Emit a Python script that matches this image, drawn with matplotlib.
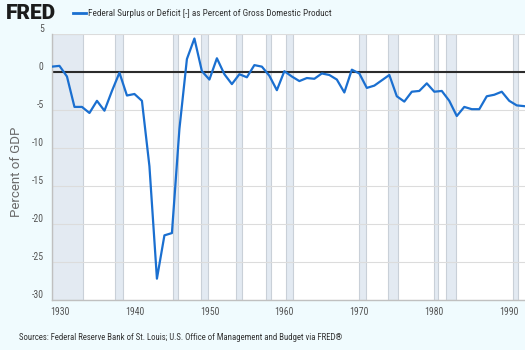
import numpy as np
import matplotlib
matplotlib.use("Agg")
import matplotlib.pyplot as plt

# Federal surplus or deficit as % of GDP, fiscal years 1929-1992
years = np.arange(1929, 1993)
values = [0.7, 0.8, -0.6, -4.6, -4.6, -5.4, -3.8, -5.1, -2.5, -0.1,
          -3.1, -2.9, -3.8, -12.4, -27.2, -21.5, -21.2, -7.5, 1.7, 4.4,
          0.1, -1.0, 1.8, -0.3, -1.6, -0.3, -0.7, 0.9, 0.7, -0.5,
          -2.4, 0.1, -0.6, -1.2, -0.8, -0.9, -0.2, -0.4, -1.0, -2.7,
          0.3, -0.2, -2.1, -1.8, -1.1, -0.4, -3.2, -3.9, -2.6, -2.5,
          -1.5, -2.6, -2.5, -3.8, -5.8, -4.6, -4.9, -4.9, -3.2, -3.0,
          -2.6, -3.8, -4.4, -4.5]

# recession bands (start, end) in decimal years
recessions = [(1929.0, 1933.1), (1937.35, 1938.45), (1945.1, 1945.75),
              (1948.85, 1949.75), (1953.5, 1954.3), (1957.6, 1958.25),
              (1960.25, 1961.1), (1969.9, 1970.85), (1973.85, 1975.15),
              (1980.0, 1980.5), (1981.5, 1982.85), (1990.5, 1991.2)]

yticks = [5, 0, -5, -10, -15, -20, -25, -30]
xticks = [1930, 1940, 1950, 1960, 1970, 1980, 1990]

bg = "#f0fbfe"
cond = ["Roboto Condensed", "DejaVu Sans"]

fig = plt.figure(figsize=(5.25, 3.5), dpi=100, facecolor=bg)
ax = fig.add_axes([0.099, 0.143, 0.901, 0.76])
ax.set_facecolor("white")

for start, end in recessions:
    ax.axvspan(start, end, facecolor="#e3eaf2", edgecolor="#c9d0d8", linewidth=0.8, zorder=0)

for y in yticks:
    ax.axhline(y, color="#dcdcdc", linewidth=0.8, zorder=1)

ax.axhline(0, color="#2b2b2b", linewidth=1.5, zorder=2)
ax.plot(years, values, color="#1a6fd0", linewidth=1.6, zorder=3)

ax.set_xlim(1929, 1992.1)
ax.set_ylim(-30, 5)

ax.set_yticks(yticks)
ax.set_yticklabels([str(y) for y in yticks], family=cond, fontsize=7, color="#555555")
for lab in ax.get_yticklabels():
    lab.set_verticalalignment("bottom")
ax.set_xticks(xticks)
ax.set_xticklabels([str(x) for x in xticks], family=cond, fontsize=7, color="#555555")
ax.tick_params(axis="both", length=0, pad=6)
ax.tick_params(axis="x", pad=5)
for lab in ax.get_xticklabels():
    lab.set_x(lab.get_position()[0] + 0.3)

for side in ["top", "right"]:
    ax.spines[side].set_visible(False)
for side in ["left", "bottom"]:
    ax.spines[side].set_color("#c0c0c0")
    ax.spines[side].set_linewidth(1.0)

ax.set_ylabel("Percent of GDP", family=["Roboto", "DejaVu Sans"], fontsize=9.5, color="#6a6a6a")
ax.yaxis.set_label_coords(-0.062, 0.48)

# header: FRED logo text plus legend entry
fig.text(0.011, 0.962, "FRED", family=["Roboto", "DejaVu Sans"], fontsize=15, fontweight="heavy",
         color="#1c1c1c", va="center")
fig.lines.append(plt.Line2D([0.139, 0.164], [0.962, 0.962], transform=fig.transFigure,
                            color="#1a6fd0", linewidth=2))
fig.text(0.168, 0.962, "Federal Surplus or Deficit [-] as Percent of Gross Domestic Product",
         family=cond, fontsize=6.7, color="#333333", va="center")

fig.text(0.036, 0.037, "Sources: Federal Reserve Bank of St. Louis; U.S. Office of Management and Budget via FRED\u00ae",
         family=cond, fontsize=6.3, color="#333333", va="center")

fig.savefig("out.png", dpi=100, facecolor=bg)
